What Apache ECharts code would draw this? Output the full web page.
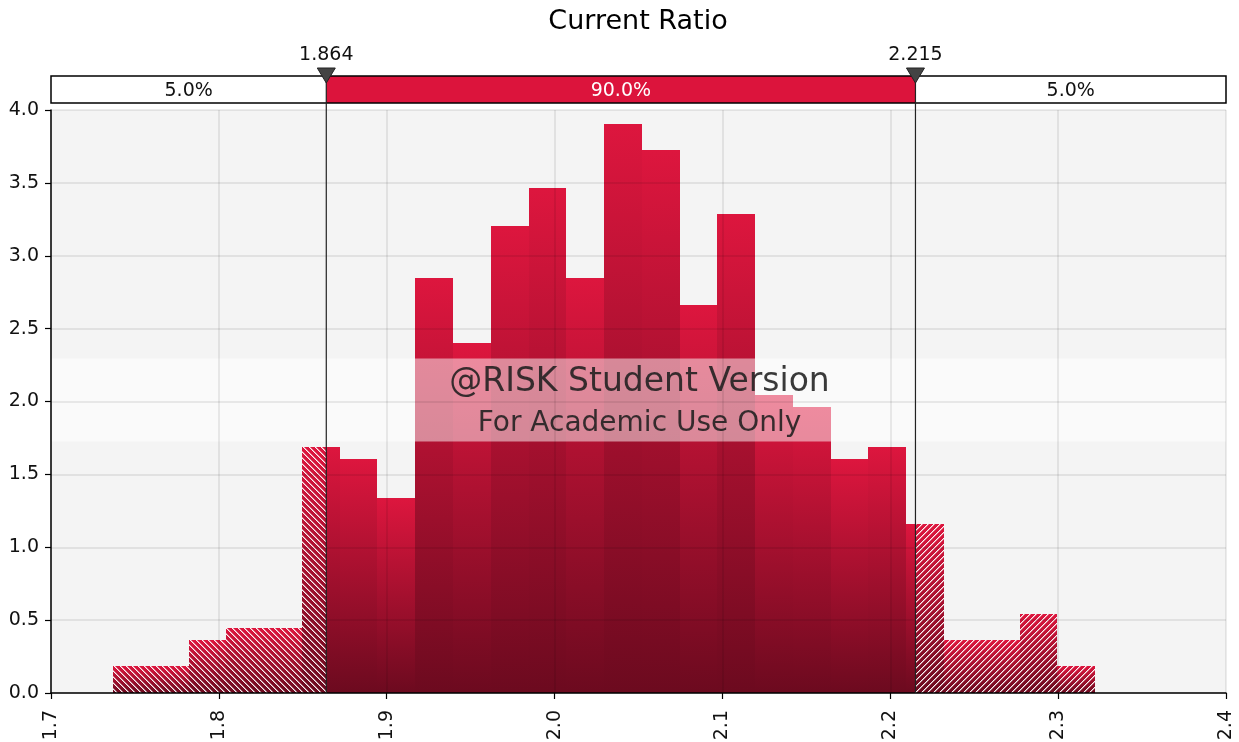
<!DOCTYPE html>
<html><head><meta charset="utf-8">
<script src="https://cdn.jsdelivr.net/npm/echarts@6/dist/echarts.min.js"></script>
<style>html,body{margin:0;padding:0;background:#fff}#c{width:1239px;height:742px}</style>
</head><body><div id="c"></div>
<script>
// ---- data ----
const chartTitle = 'Current Ratio';
const binStart = 1.737;
const binWidth = 0.0225;
const density = [0.185, 0.185, 0.364, 0.446, 0.446, 1.688, 1.605, 1.338, 2.847, 2.401,
                 3.204, 3.465, 2.847, 3.904, 3.726, 2.662, 3.286, 2.045, 1.962, 1.608,
                 1.688, 1.160, 0.364, 0.364, 0.542, 0.187];
const cutValues = [1.864, 2.215];
const cutLabels = ['1.864', '2.215'];
const pctLabels = ['5.0%', '90.0%', '5.0%'];
const xRange = [1.7, 2.4, 0.1];
const yRange = [0, 4, 0.5];
const watermarkLines = ['@RISK Student Version', 'For Academic Use Only'];

const FONT = '"DejaVu Sans", Verdana, sans-serif';
const RED = '#DC143C';

// split bins at the cut values
const pieces = [];
density.forEach((h, i) => {
  const a = binStart + i * binWidth, b = a + binWidth;
  const bounds = [a].concat(cutValues.filter(c => c > a && c < b), [b]);
  for (let k = 0; k < bounds.length - 1; k++) {
    const lo = bounds[k], hi = bounds[k + 1], mid = (lo + hi) / 2;
    const kind = mid < cutValues[0] ? 1 : (mid > cutValues[1] ? 2 : 0);
    pieces.push([lo, hi, h, kind]);
  }
});

// crisp pixel hatch tiles
function makePattern(dir) {
  const s = 6, c = document.createElement('canvas');
  c.width = s; c.height = s;
  const g = c.getContext('2d');
  for (let y = 0; y < s; y++) {
    const x = dir === 'L' ? y : (s - 1 - y);
    g.fillStyle = 'rgba(255,255,255,0.95)';
    g.fillRect(x, y, 1, 1);
    g.fillStyle = 'rgba(255,255,255,0.45)';
    g.fillRect((x + 1) % s, y, 1, 1);
  }
  return c;
}
const patL = makePattern('L');
const patR = makePattern('R');

function renderBar(params, api) {
  const x0 = api.value(0), x1 = api.value(1), h = api.value(2), kind = api.value(3);
  const p0 = api.coord([x0, h]);
  const p1 = api.coord([x1, 0]);
  const xa = Math.round(p0[0]), xb = Math.round(p1[0]);
  const ya = Math.round(p0[1]), yb = p1[1];
  const shape = { x: xa, y: ya, width: xb - xa, height: yb - ya };
  const grad = new echarts.graphic.LinearGradient(0, 0, 0, 1, [
    { offset: 0, color: '#DD163E' }, { offset: 1, color: '#6C0A1F' }
  ]);
  const children = [{ type: 'rect', shape: shape, style: { fill: grad } }];
  if (kind === 1 || kind === 2) {
    children.push({ type: 'rect', shape: shape, style: { fill: { image: kind === 1 ? patL : patR, repeat: 'repeat' } } });
  }
  return { type: 'group', children: children };
}

function renderBand(params, api) {
  const tl = api.coord([xRange[0], yRange[1]]);
  const br = api.coord([xRange[1], yRange[0]]);
  const cy = (tl[1] + br[1]) / 2 - 1;
  return {
    type: 'rect',
    shape: { x: tl[0], y: cy - 42, width: br[0] - tl[0], height: 83 },
    style: { fill: 'rgba(255,255,255,0.5)' }
  };
}

function renderOverlay(params, api) {
  const tl = api.coord([xRange[0], yRange[1]]);
  const br = api.coord([xRange[1], yRange[0]]);
  const top = tl[1], bottom = br[1];
  const boxTop = top - 34, boxH = 27;
  const cx = cutValues.map(v => api.coord([v, yRange[1]])[0]);
  const segs = [tl[0], cx[0], cx[1], br[0]];
  const ch = [];
  ch.push({ type: 'rect', shape: { x: tl[0], y: boxTop, width: br[0] - tl[0], height: boxH }, style: { fill: '#fff' } });
  ch.push({ type: 'rect', shape: { x: cx[0], y: boxTop, width: cx[1] - cx[0], height: boxH }, style: { fill: RED } });
  ch.push({ type: 'rect', shape: { x: tl[0], y: boxTop, width: br[0] - tl[0], height: boxH }, style: { fill: null, stroke: '#000', lineWidth: 1.5 } });
  for (let i = 0; i < 3; i++) {
    ch.push({ type: 'text', x: (segs[i] + segs[i + 1]) / 2, y: boxTop + boxH / 2 + 2,
      style: { text: pctLabels[i], fill: i === 1 ? '#fff' : '#111', font: '19px ' + FONT, align: 'center', verticalAlign: 'middle' } });
  }
  cx.forEach((x, i) => {
    ch.push({ type: 'line', shape: { x1: x, y1: boxTop, x2: x, y2: bottom }, style: { stroke: '#222', lineWidth: 1.2 } });
    ch.push({ type: 'polygon', shape: { points: [[x - 9, boxTop - 8], [x + 9, boxTop - 8], [x, boxTop + 7]] },
      style: { fill: '#444', stroke: '#222', lineWidth: 1 } });
    ch.push({ type: 'text', x: x, y: boxTop - 21,
      style: { text: cutLabels[i], fill: '#111', font: '19px ' + FONT, align: 'center', verticalAlign: 'middle' } });
  });
  const mx = (tl[0] + br[0]) / 2, my = (top + bottom) / 2;
  ch.push({ type: 'text', x: mx + 1, y: my - 19,
    style: { text: watermarkLines[0], fill: 'rgba(30,30,30,0.88)', font: '33px ' + FONT, align: 'center', verticalAlign: 'middle' } });
  ch.push({ type: 'text', x: mx + 1, y: my + 22,
    style: { text: watermarkLines[1], fill: 'rgba(30,30,30,0.88)', font: '28px ' + FONT, align: 'center', verticalAlign: 'middle' } });
  return { type: 'group', children: ch };
}

const fmt1 = v => Number(v).toFixed(1);
const chart = echarts.init(document.getElementById('c'), null, { renderer: 'canvas' });
chart.setOption({
  animation: false,
  backgroundColor: '#fff',
  title: {
    text: chartTitle, left: 633, top: 3, textAlign: 'center',
    textStyle: { fontFamily: FONT, fontSize: 27, fontWeight: 'normal', color: '#000' }
  },
  grid: { left: 51, right: 13, top: 110, bottom: 49, containLabel: false, outerBoundsMode: 'none',
    show: true, backgroundColor: '#f4f4f4', borderWidth: 0 },
  xAxis: {
    type: 'value', min: xRange[0], max: xRange[1], interval: xRange[2], z: 3,
    axisLine: { show: true, onZero: false, lineStyle: { color: '#000', width: 1.5 } },
    axisTick: { show: true, length: 6, lineStyle: { color: '#000', width: 1.2 } },
    axisLabel: { rotate: 90, margin: 17, fontSize: 19, color: '#111', fontFamily: FONT, formatter: fmt1,
      showMinLabel: true, showMaxLabel: true, hideOverlap: false },
    splitLine: { show: true, lineStyle: { color: 'rgba(0,0,0,0.1)', width: 1.5 } }
  },
  yAxis: {
    type: 'value', min: yRange[0], max: yRange[1], interval: yRange[2], z: 3,
    axisLine: { show: true, onZero: false, lineStyle: { color: '#000', width: 1.5 } },
    axisTick: { show: true, length: 6, lineStyle: { color: '#000', width: 1.2 } },
    axisLabel: { margin: 12, fontSize: 19, color: '#111', fontFamily: FONT, formatter: fmt1,
      showMinLabel: true, showMaxLabel: true, hideOverlap: false },
    splitLine: { show: true, lineStyle: { color: 'rgba(0,0,0,0.1)', width: 1.5 } }
  },
  series: [
    { type: 'custom', z: 1, data: pieces, renderItem: renderBar, encode: { x: [0, 1], y: 2 }, clip: false, silent: true },
    { type: 'custom', z: 2, data: [[cutValues[0], 0]], renderItem: renderBand, encode: { x: 0, y: 1 }, clip: false, silent: true },
    { type: 'custom', z: 5, data: [[cutValues[0], 0]], renderItem: renderOverlay, encode: { x: 0, y: 1 }, clip: false, silent: true }
  ]
});
</script></body></html>
